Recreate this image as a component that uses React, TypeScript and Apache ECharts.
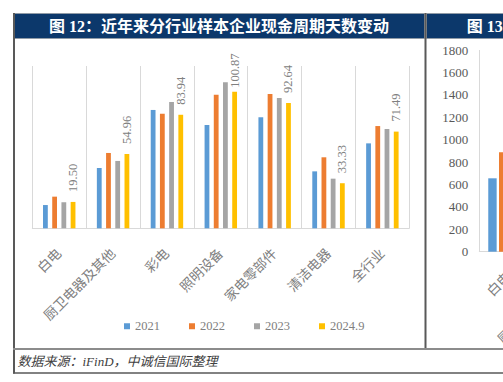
import React, { useEffect, useRef } from "react";
import * as echarts from "echarts";

const categories = ["白电", "厨卫电器及其他", "彩电", "照明设备", "家电零部件", "清洁电器", "全行业"];
const seriesNames = ["2021", "2022", "2023", "2024.9"];
const v2021 = [17.2, 44.6, 87.5, 76.4, 82.1, 42.1, 62.8];
const v2022 = [23.4, 55.7, 84.7, 98.8, 99.3, 52.5, 75.6];
const v2023 = [19.2, 49.8, 93.4, 107.9, 96.3, 36.7, 73.4];
const v2024 = [19.5, 54.96, 83.94, 100.87, 92.64, 33.33, 71.49];

// Figure 13 (clipped at the right edge): only the first category is partly visible
const fig13Ticks = [0, 200, 400, 600, 800, 1000, 1200, 1400, 1600, 1800];
const fig13Blue = [655];
const fig13Orange = [887];

const colors = ["#5b9bd5", "#ed7d31", "#a5a5a5", "#ffc000"];
const SERIF = "'Liberation Serif', 'Times New Roman', 'Noto Sans CJK SC', serif";

export default function App() {
  const ref = useRef<HTMLDivElement>(null);
  useEffect(() => {
    if (!ref.current) return;
    const chart = echarts.init(ref.current, undefined, { renderer: "svg" });
    const values = [v2021, v2022, v2023, v2024];
    const series: any[] = values.map((arr, i) => ({
      type: "bar",
      name: seriesNames[i],
      xAxisIndex: 0,
      yAxisIndex: 0,
      data: i === 3
        ? arr.map((v) => (v > 100 ? { value: v, label: { distance: 4 } } : v))
        : arr,
      barWidth: 4.8,
      barGap: "92%",
      itemStyle: { color: colors[i] },
      label: i === 3
        ? {
            show: true,
            position: "top",
            rotate: 90,
            align: "left",
            verticalAlign: "middle",
            distance: 10,
            color: "#808080",
            fontSize: 12.5,
            fontFamily: SERIF,
            formatter: (p: any) => Number(p.value).toFixed(2),
          }
        : { show: false },
    }));
    const fig13 = [fig13Blue, fig13Orange, [], []];
    fig13.forEach((arr, i) => {
      series.push({
        type: "bar",
        name: seriesNames[i],
        xAxisIndex: 1,
        yAxisIndex: 1,
        data: arr,
        barWidth: 8.4,
        barGap: "28%",
        itemStyle: { color: colors[i] },
      });
    });

    const axisLabel = {
      rotate: 45,
      color: "#808080",
      fontSize: 13.5,
      fontFamily: SERIF,
      margin: 23,
      interval: 0,
    };

    chart.setOption({
      animation: false,
      backgroundColor: "#ffffff",
      grid: [
        { left: 32.3, top: 66, width: 377, height: 162.3, containLabel: false, outerBoundsMode: "none" },
        { left: 479.3, top: 50, width: 410, height: 201.7, containLabel: false, outerBoundsMode: "none" },
      ],
      xAxis: [
        {
          type: "category",
          gridIndex: 0,
          data: categories,
          axisLine: { lineStyle: { color: "#d9d9d9" } },
          axisTick: { show: false },
          splitLine: { show: true, lineStyle: { color: "#d9d9d9" } },
          axisLabel,
        },
        {
          type: "category",
          gridIndex: 1,
          data: categories,
          axisLine: { lineStyle: { color: "#d9d9d9" } },
          axisTick: { show: false },
          splitLine: { show: true, lineStyle: { color: "#d9d9d9" } },
          axisLabel,
        },
      ],
      yAxis: [
        {
          type: "value",
          gridIndex: 0,
          min: 0,
          max: 120,
          show: false,
          splitLine: { show: false },
        },
        {
          type: "value",
          gridIndex: 1,
          min: fig13Ticks[0],
          max: fig13Ticks[fig13Ticks.length - 1],
          interval: fig13Ticks[1] - fig13Ticks[0],
          axisLine: { show: false },
          axisTick: { show: false },
          splitLine: { show: false },
          axisLabel: {
            color: "#595959",
            fontSize: 13,
            fontFamily: SERIF,
            margin: 11,
            formatter: (v: number) => String(v),
          },
        },
      ],
      legend: {
        data: seriesNames,
        left: 119,
        top: 315,
        icon: "rect",
        itemWidth: 6,
        itemHeight: 6,
        itemGap: 29,
        textStyle: { color: "#808080", fontSize: 12.5, fontFamily: SERIF },
        selectedMode: false,
      },
      series,
      graphic: [
        {
          type: "rect",
          shape: { x: 13.5, y: 13.5, width: 411, height: 25 },
          style: { fill: "#0c386b", stroke: "#9a9a9a", lineWidth: 1, lineDash: [1, 1] },
          z: 10,
        },
        {
          type: "rect",
          shape: { x: 426.5, y: 13.5, width: 100, height: 25 },
          style: { fill: "#0c386b", stroke: "#9a9a9a", lineWidth: 1, lineDash: [1, 1] },
          z: 10,
        },
        {
          type: "text",
          x: 219,
          y: 26,
          z: 11,
          style: {
            text: "图 12：近年来分行业样本企业现金周期天数变动",
            fill: "#ffffff",
            fontSize: 16,
            fontWeight: "bold",
            fontFamily: SERIF,
            textAlign: "center",
            textVerticalAlign: "middle",
          },
        },
        {
          type: "text",
          x: 466.7,
          y: 26,
          z: 11,
          style: {
            text: "图 13",
            fill: "#ffffff",
            fontSize: 16,
            fontWeight: "bold",
            fontFamily: SERIF,
            textAlign: "left",
            textVerticalAlign: "middle",
          },
        },
        {
          type: "line",
          shape: { x1: 14, y1: 13, x2: 14, y2: 373.5 },
          style: { stroke: "#595959", lineWidth: 2 },
          z: 12,
        },
        {
          type: "line",
          shape: { x1: 425.5, y1: 13, x2: 425.5, y2: 349 },
          style: { stroke: "#595959", lineWidth: 2 },
          z: 12,
        },
        {
          type: "line",
          shape: { x1: 13, y1: 349, x2: 503, y2: 349 },
          style: { stroke: "#8c8c8c", lineWidth: 2 },
          z: 12,
        },
        {
          type: "line",
          shape: { x1: 13, y1: 373, x2: 503, y2: 373 },
          style: { stroke: "#595959", lineWidth: 1.5 },
          z: 12,
        },
        {
          type: "text",
          x: 17.5,
          y: 361,
          z: 11,
          style: {
            text: "数据来源：iFinD，中诚信国际整理",
            fill: "#404040",
            fontSize: 13,
            fontStyle: "italic",
            fontFamily: SERIF,
            textAlign: "left",
            textVerticalAlign: "middle",
          },
        },
      ],
    });
    return () => chart.dispose();
  }, []);
  return (
    <div
      ref={ref}
      style={{ position: "absolute", left: 0, top: 0, width: 503, height: 382, overflow: "hidden" }}
    />
  );
}
